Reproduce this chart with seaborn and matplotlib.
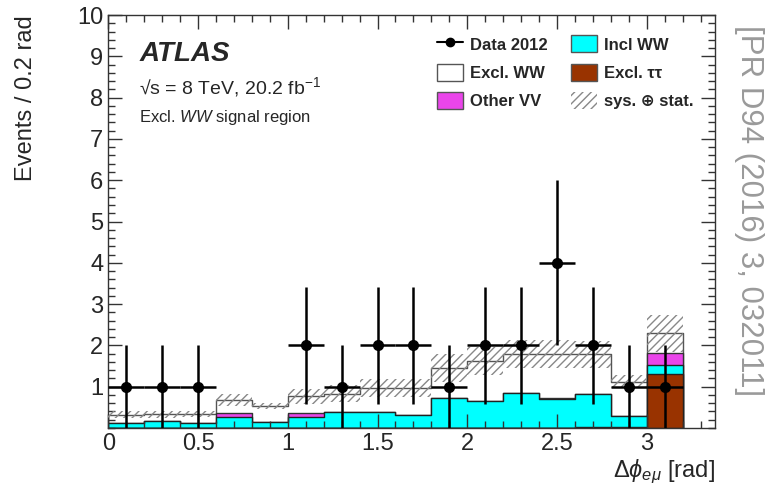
import numpy as np
import pandas as pd
import seaborn as sns
import matplotlib.pyplot as plt
from matplotlib.lines import Line2D
from matplotlib.patches import Patch
from matplotlib.ticker import MultipleLocator

# bin edges (0.2 rad bins) and contents
edges = [0.0, 0.2, 0.4, 0.6, 0.8, 1.0, 1.2, 1.4, 1.6, 1.8, 2.0, 2.2, 2.4, 2.6, 2.8, 3.0, 3.2]
excl_tt = [0, 0, 0, 0, 0, 0, 0, 0, 0, 0, 0, 0, 0, 0.02, 0.02, 1.30]
incl_ww = [0.12, 0.16, 0.11, 0.27, 0.15, 0.26, 0.39, 0.39, 0.31, 0.72, 0.66, 0.84, 0.69, 0.80, 0.27, 0.23]
other_vv = [0, 0, 0, 0.08, 0, 0.10, 0, 0, 0, 0, 0, 0, 0.04, 0, 0, 0.28]
excl_ww = [0.20, 0.17, 0.23, 0.33, 0.38, 0.41, 0.44, 0.57, 0.65, 0.74, 0.95, 0.95, 1.06, 0.96, 0.83, 0.48]
band_err = [0.08, 0.08, 0.08, 0.15, 0.08, 0.18, 0.20, 0.22, 0.22, 0.34, 0.34, 0.33, 0.33, 0.32, 0.15, 0.45]
data_2012 = [1, 1, 1, 0, 0, 2, 1, 2, 2, 1, 2, 2, 4, 2, 1, 1]

edge_arr = np.array(edges)
centers = 0.5 * (edge_arr[1:] + edge_arr[:-1])
width = edge_arr[1:] - edge_arr[:-1]

# cumulative layers, drawn from the top of the stack downwards
lay_tt = np.array(excl_tt)
lay_ww = lay_tt + np.array(incl_ww)
lay_vv = lay_ww + np.array(other_vv)
total = lay_vv + np.array(excl_ww)

sns.set_theme(style="ticks")
plt.rcParams['font.family'] = ['Liberation Sans', 'DejaVu Sans']
plt.rcParams['mathtext.fontset'] = 'custom'
plt.rcParams['mathtext.rm'] = 'Liberation Sans'
plt.rcParams['mathtext.it'] = 'Liberation Sans:italic'
plt.rcParams['mathtext.bf'] = 'Liberation Sans:bold'
plt.rcParams['hatch.linewidth'] = 1.0

fig = plt.figure(figsize=(7.68, 5.04), dpi=100)
ax = fig.add_axes([0.141, 0.151, 0.790, 0.819])

layers = [
    (total, 'white', '#555555'),
    (lay_vv, '#ea45ea', '#333333'),
    (lay_ww, '#00ffff', '#222222'),
    (lay_tt, '#993300', '#222222'),
]
for vals, fc, ec in layers:
    df = pd.DataFrame({'x': centers, 'w': vals})
    sns.histplot(data=df, x='x', weights='w', bins=list(edges), element='step',
                 fill=True, color=fc, alpha=1, edgecolor=ec, linewidth=1.0, ax=ax)

# sys + stat band
ax.bar(centers, 2 * np.array(band_err), bottom=total - np.array(band_err), width=width,
       fill=False, hatch='////', edgecolor='#888888', linewidth=0, zorder=3)

# data points with sqrt(N) errors, empty bins not drawn
d = np.array(data_2012, dtype=float)
m = d > 0
ax.errorbar(centers[m], d[m], xerr=width[m] / 2, yerr=np.sqrt(d[m]), fmt='o',
            color='black', markersize=7, elinewidth=1.8, capsize=0, zorder=5)

ax.set_xlim(0, 3.38)
ax.set_ylim(0, 10)
ax.set_xlabel(r'$\Delta\phi_{e\mu}$ [rad]', fontsize=17, loc='right', labelpad=2)
ax.set_ylabel('Events / 0.2 rad', fontsize=17, loc='top', labelpad=29)
ax.xaxis.set_major_locator(MultipleLocator(0.5))
ax.xaxis.set_minor_locator(MultipleLocator(0.1))
ax.yaxis.set_major_locator(MultipleLocator(1))
ax.yaxis.set_minor_locator(MultipleLocator(0.2))
ax.set_xticks([0, 0.5, 1, 1.5, 2, 2.5, 3])
ax.set_xticklabels(['0', '0.5', '1', '1.5', '2', '2.5', '3'])
ax.set_yticks(range(1, 11))
ax.tick_params(which='both', direction='in', top=True, right=True, labelsize=17, width=1.0, color='#333333')
ax.tick_params(which='major', length=10)
ax.tick_params(which='minor', length=5)
ax.set_axisbelow(False)
for s in ax.spines.values():
    s.set_linewidth(1.0)
    s.set_color('#333333')

ax.text(0.051, 0.889, 'ATLAS', transform=ax.transAxes, fontsize=20, fontweight='bold', style='italic')
ax.text(0.050, 0.809, '√s = 8 TeV, 20.2 fb$^{-1}$', transform=ax.transAxes, fontsize=14)
ax.text(0.050, 0.741, r'Excl. $\mathit{WW}$ signal region', transform=ax.transAxes, fontsize=12)

handles = [
    Line2D([0], [0], color='black', marker='o', markersize=6, lw=1.5),
    Patch(facecolor='white', edgecolor='#555555'),
    Patch(facecolor='#ea45ea', edgecolor='#555555'),
    Patch(facecolor='#00ffff', edgecolor='#555555'),
    Patch(facecolor='#993300', edgecolor='#555555'),
    Patch(facecolor='none', edgecolor='#888888', hatch='////', linewidth=0),
]
labels = ['Data 2012', 'Excl. WW', 'Other VV', 'Incl WW', 'Excl. ττ', 'sys. ⊕ stat.']
ax.legend(handles, labels, ncol=2, loc='upper left', bbox_to_anchor=(0.542, 0.951),
          frameon=False, prop={'weight': 'bold', 'size': 12}, handlelength=1.55,
          handleheight=1.2, handletextpad=0.4, columnspacing=1.45, labelspacing=0.66,
          borderpad=0, borderaxespad=0)

fig.text(0.975, 0.583, '[PR D94 (2016) 3, 032011]', rotation=-90, fontsize=22.5,
         color='#9a9a9a', ha='center', va='center')

fig.savefig('out.png', dpi=100)
